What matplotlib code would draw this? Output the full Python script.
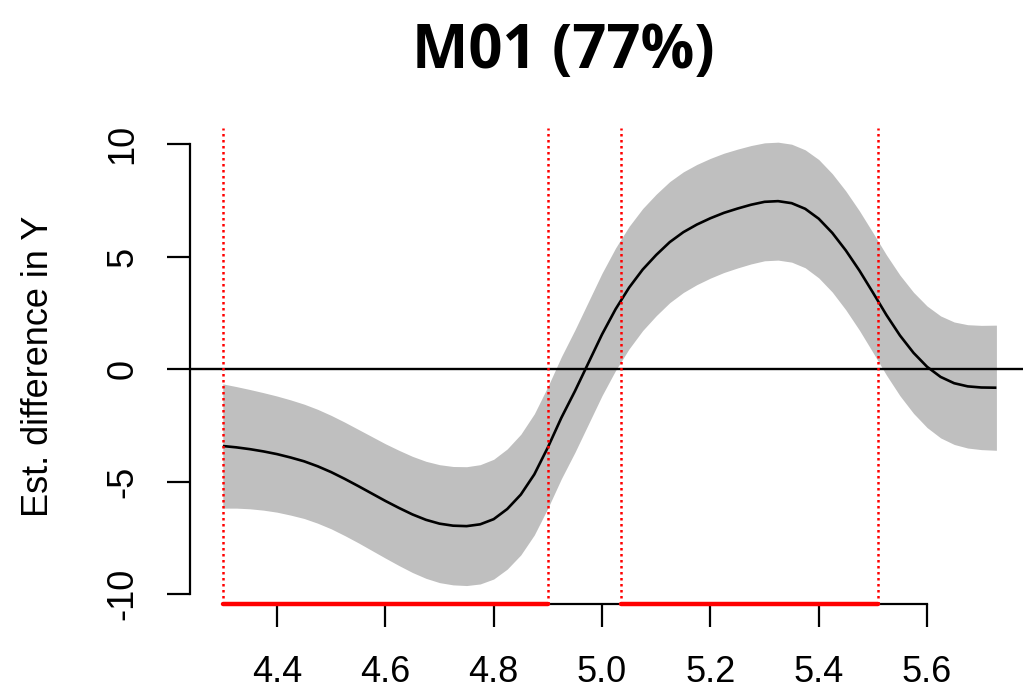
import matplotlib
matplotlib.use("Agg")
import matplotlib.pyplot as plt
import numpy as np

plt.rcParams['font.family'] = ['Liberation Sans', 'DejaVu Sans']
plt.rcParams['axes.unicode_minus'] = False

# Estimated difference curve (fit) and 95% CI half-width along the predictor
x_vals = [4.300, 4.325, 4.350, 4.375, 4.400, 4.425, 4.450, 4.475, 4.500, 4.525,
          4.550, 4.575, 4.600, 4.625, 4.650, 4.675, 4.700, 4.725, 4.750, 4.775,
          4.800, 4.825, 4.850, 4.875, 4.900, 4.925, 4.950, 4.975, 5.000, 5.025,
          5.050, 5.075, 5.100, 5.125, 5.150, 5.175, 5.200, 5.225, 5.250, 5.275,
          5.300, 5.325, 5.350, 5.375, 5.400, 5.425, 5.450, 5.475, 5.500, 5.525,
          5.550, 5.575, 5.600, 5.625, 5.650, 5.675, 5.700, 5.728]
fit = [-3.42, -3.48, -3.56, -3.66, -3.78, -3.93, -4.10, -4.32, -4.58, -4.88,
       -5.20, -5.53, -5.86, -6.17, -6.46, -6.70, -6.87, -6.96, -6.98, -6.90,
       -6.67, -6.22, -5.58, -4.68, -3.48, -2.16, -0.98, 0.28, 1.54, 2.66,
       3.62, 4.42, 5.07, 5.64, 6.08, 6.42, 6.70, 6.94, 7.13, 7.30,
       7.43, 7.46, 7.37, 7.12, 6.68, 6.05, 5.27, 4.38, 3.40, 2.40,
       1.49, 0.72, 0.10, -0.35, -0.63, -0.77, -0.82, -0.83]
ci = [2.76, 2.70, 2.65, 2.61, 2.58, 2.56, 2.54, 2.53, 2.52, 2.52,
      2.52, 2.53, 2.54, 2.56, 2.58, 2.60, 2.62, 2.63, 2.64, 2.65,
      2.66, 2.67, 2.68, 2.69, 2.70, 2.71, 2.72, 2.72, 2.72, 2.72,
      2.72, 2.71, 2.70, 2.69, 2.68, 2.67, 2.66, 2.65, 2.64, 2.63,
      2.62, 2.62, 2.62, 2.62, 2.63, 2.63, 2.64, 2.65, 2.66, 2.67,
      2.68, 2.69, 2.70, 2.71, 2.72, 2.74, 2.76, 2.78]

# regions where the difference is significant
sig_start = [4.30, 5.035]
sig_end = [4.90, 5.51]

x_ticks = [4.4, 4.6, 4.8, 5.0, 5.2, 5.4, 5.6]
x_ticklabels = ["4.4", "4.6", "4.8", "5.0", "5.2", "5.4", "5.6"]
y_ticks = [-10, -5, 0, 5, 10]
y_ticklabels = ["-10", "-5", "0", "5", "10"]

title = "M01 (77%)"
ylabel = "Est. difference in Y"

x = np.array(x_vals)
fit = np.array(fit)
ci = np.array(ci)

fig = plt.figure(figsize=(10.23, 6.89), dpi=100)
ax = fig.add_axes([190 / 1023, 1 - 604 / 689, 840 / 1023, 476 / 689])
ax.set_xlim(4.2394, 5.790)
ax.set_ylim(-10.44, 10.71)

# confidence band and fitted difference
ax.fill_between(x, fit - ci, fit + ci, color="#bfbfbf", linewidth=0, zorder=1)
ax.plot(x, fit, color="black", lw=1.9, zorder=3, solid_capstyle="butt")
ax.axhline(0, color="black", lw=1.7, zorder=2)

# significant intervals: dotted borders plus a thick bar on the x axis
for s, e in zip(sig_start, sig_end):
    for v in (s, e):
        ax.axvline(v, color="red", lw=1.8, linestyle=(0, (1.0, 1.4)), zorder=4)
    ax.plot([s, e], [-10.44, -10.44], color="red", lw=3.2,
            solid_capstyle="round", clip_on=False, zorder=6)

# R-like axes: only left/bottom, running from first to last tick
for side in ("top", "right"):
    ax.spines[side].set_visible(False)
ax.spines["left"].set_bounds(-10, 10)
ax.spines["bottom"].set_bounds(4.4, 5.6)
ax.spines["left"].set_linewidth(1.6)
ax.spines["bottom"].set_linewidth(1.6)

ax.set_xticks(x_ticks)
ax.set_xticklabels(x_ticklabels, fontsize=26)
ax.set_yticks(y_ticks)
ax.set_yticklabels(y_ticklabels, fontsize=26, rotation=90, va="center")
ax.tick_params(axis="both", direction="out", length=16.5, width=1.6)
ax.tick_params(axis="x", pad=20)
ax.tick_params(axis="y", pad=19)

ax.set_ylabel(ylabel, fontsize=26)
ax.yaxis.set_label_coords(-0.16, 0.5)

fig.text(563 / 1023, 1 - 68 / 689, title, ha="center", va="baseline",
         fontsize=43, fontweight="bold", family=["Open Sans", "DejaVu Sans"])

fig.savefig("out.png", dpi=100)
